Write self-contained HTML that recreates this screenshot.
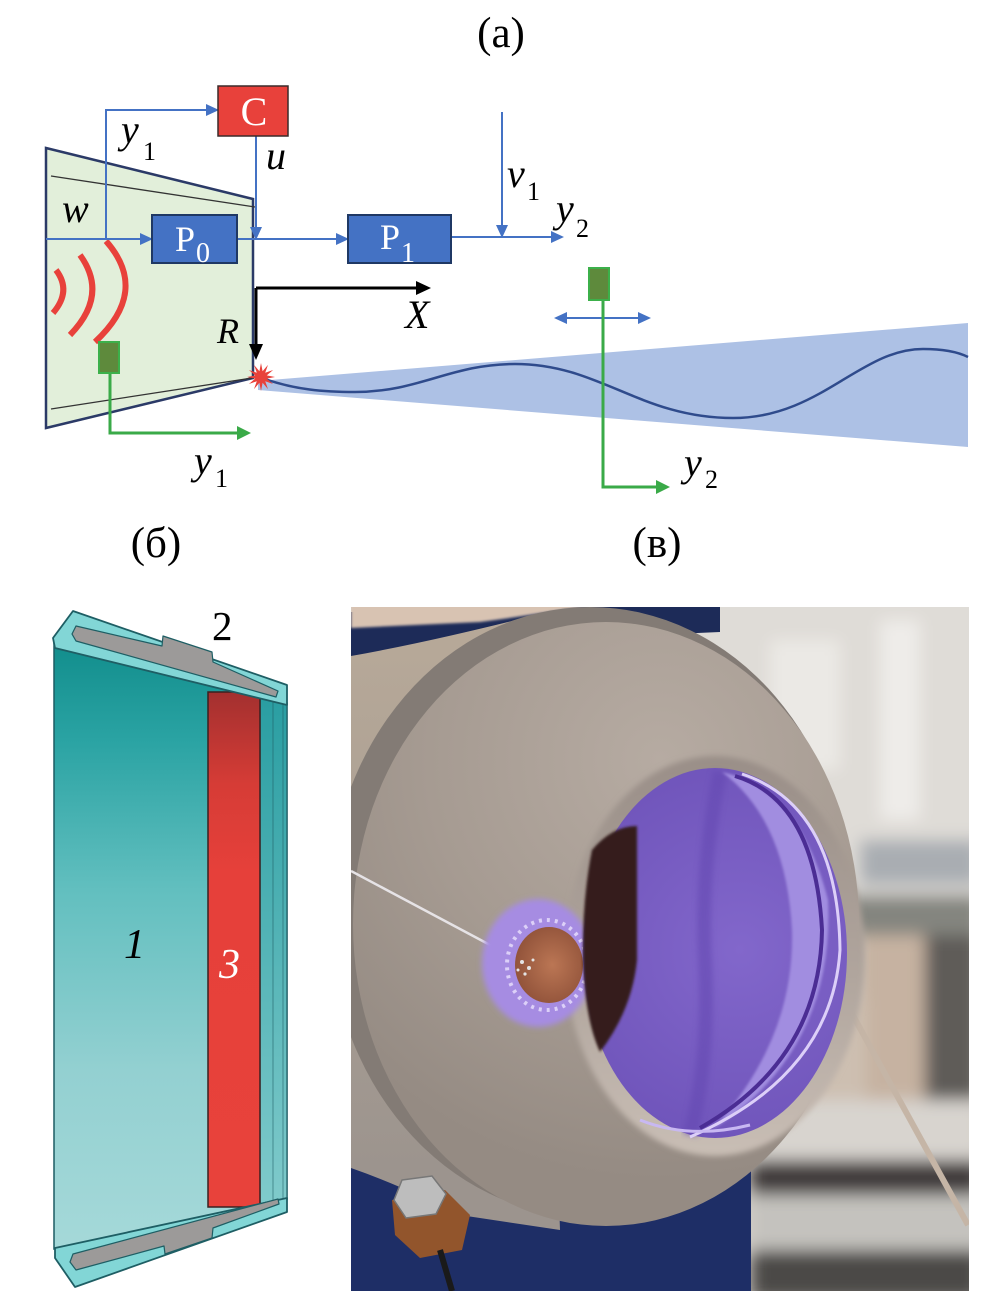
<!DOCTYPE html>
<html><head><meta charset="utf-8"><style>
html,body{margin:0;padding:0;background:#fff;width:1004px;height:1313px;overflow:hidden}
svg{display:block}
</style></head><body>
<svg xmlns="http://www.w3.org/2000/svg" width="1004" height="1313" viewBox="0 0 1004 1313" font-family="'Liberation Serif', 'DejaVu Serif', serif">
<defs>
<clipPath id="pc"><rect x="351" y="607" width="618" height="684"/></clipPath>
<filter id="b8" x="-20%" y="-20%" width="140%" height="140%"><feGaussianBlur stdDeviation="8"/></filter>
<filter id="b3" x="-30%" y="-30%" width="160%" height="160%"><feGaussianBlur stdDeviation="3"/></filter>
<filter id="b1" x="-20%" y="-20%" width="140%" height="140%"><feGaussianBlur stdDeviation="1.2"/></filter>
<linearGradient id="bodyG" gradientUnits="userSpaceOnUse" x1="0" y1="650" x2="0" y2="1250">
 <stop offset="0" stop-color="#138f8e"/>
 <stop offset="0.15" stop-color="#2aa3a3"/>
 <stop offset="0.4" stop-color="#62bfbf"/>
 <stop offset="0.7" stop-color="#93d0d1"/>
 <stop offset="1" stop-color="#a5d9d9"/>
</linearGradient>
<linearGradient id="stripG" gradientUnits="userSpaceOnUse" x1="0" y1="700" x2="0" y2="1200">
 <stop offset="0" stop-color="#2a9ea2"/>
 <stop offset="1" stop-color="#7fcacb"/>
</linearGradient>
<linearGradient id="redG" gradientUnits="userSpaceOnUse" x1="0" y1="692" x2="0" y2="1207">
 <stop offset="0" stop-color="#a3302f"/>
 <stop offset="0.18" stop-color="#d63c36"/>
 <stop offset="0.35" stop-color="#e6403a"/>
 <stop offset="1" stop-color="#e8423b"/>
</linearGradient>
<radialGradient id="coneG" gradientUnits="userSpaceOnUse" cx="660" cy="760" r="420">
 <stop offset="0" stop-color="#b6aba2"/>
 <stop offset="0.55" stop-color="#a69b92"/>
 <stop offset="1" stop-color="#958b83"/>
</radialGradient>
<linearGradient id="lipG" gradientUnits="userSpaceOnUse" x1="0" y1="760" x2="0" y2="1150">
 <stop offset="0" stop-color="#9a8f88"/>
 <stop offset="0.55" stop-color="#b0a59d"/>
 <stop offset="1" stop-color="#c8bdb4"/>
</linearGradient>
<linearGradient id="backG" gradientUnits="userSpaceOnUse" x1="0" y1="650" x2="0" y2="1170">
 <stop offset="0" stop-color="#b6a898"/>
 <stop offset="1" stop-color="#9c948e"/>
</linearGradient>
<radialGradient id="purG" gradientUnits="userSpaceOnUse" cx="740" cy="950" r="190">
 <stop offset="0" stop-color="#8267cb"/>
 <stop offset="1" stop-color="#7055bb"/>
</radialGradient>
<radialGradient id="discG" cx="0.55" cy="0.5" r="0.6">
 <stop offset="0" stop-color="#bb7654"/>
 <stop offset="1" stop-color="#8e5038"/>
</radialGradient>
</defs>

<!-- ================= (a) ================= -->
<text x="501" y="47" font-size="43" text-anchor="middle" fill="#000">(a)</text>

<polygon points="258,381 968,323 968,447 258,390" fill="#adc1e5"/>

<polygon points="46,148 253,199 253,378 46,428" fill="#e2efda" stroke="#2b3a67" stroke-width="2.5"/>
<line x1="51" y1="176" x2="255" y2="207" stroke="#333" stroke-width="1.3"/>
<line x1="51" y1="409" x2="252" y2="378" stroke="#333" stroke-width="1.3"/>

<g fill="none" stroke="#e8413b" stroke-width="6">
 <path d="M106,241 Q150,291 95,342"/>
 <path d="M80,255 Q109,295 70,335"/>
 <path d="M56,270 Q72,291 53,313"/>
</g>

<path d="M262,378 C295,390 325,392 355,392 C420,392 450,364 515,364 C600,364 640,418 733,418 C820,418 860,349 923,349 C945,349 958,352 968,357" fill="none" stroke="#2f4b8c" stroke-width="2.5"/>

<g fill="none" stroke="#4472c4" stroke-width="2">
 <path d="M106,239 V110 H207"/>
 <path d="M46,239 H141"/>
 <path d="M237,239 H337"/>
 <path d="M256,136 V228"/>
 <path d="M451,237 H552"/>
 <path d="M502,112 V226"/>
 <path d="M566,318 H639"/>
</g>
<g fill="#4472c4">
 <polygon points="219,110 206,104 206,116"/>
 <polygon points="153,239 140,233 140,245"/>
 <polygon points="349,239 336,233 336,245"/>
 <polygon points="256,240 250,227 262,227"/>
 <polygon points="564,237 551,231 551,243"/>
 <polygon points="502,238 496,225 508,225"/>
 <polygon points="554,318 567,312 567,324"/>
 <polygon points="651,318 638,312 638,324"/>
</g>

<rect x="218" y="86" width="70" height="50" fill="#e8413b" stroke="#3a2a2a" stroke-width="1.5"/>
<text x="254" y="125" font-size="40" fill="#fff" text-anchor="middle">C</text>
<rect x="152" y="215" width="85" height="48" fill="#4472c4" stroke="#1f3864" stroke-width="2"/>
<text x="175" y="251" font-size="36" fill="#fff">P</text>
<text x="196" y="262" font-size="28" fill="#fff">0</text>
<rect x="348" y="215" width="103" height="48" fill="#4472c4" stroke="#1f3864" stroke-width="2"/>
<text x="380" y="249" font-size="36" fill="#fff">P</text>
<text x="401" y="262" font-size="28" fill="#fff">1</text>

<g stroke="#000" stroke-width="3" fill="none">
 <path d="M256,288 H418"/>
 <path d="M256,288 V346"/>
</g>
<polygon points="431,288 416,281 416,295" fill="#000"/>
<polygon points="256,360 249,344 263,344" fill="#000"/>

<polygon fill="#e8413b" points="275,377 266.8,378.6 273.1,384 265.2,381.2 268,389.1 262.6,382.8 261,391 259.4,382.8 254,389.1 256.8,381.2 248.9,384 255.2,378.6 247,377 255.2,375.4 248.9,370 256.8,372.8 254,364.9 259.4,371.2 261,363 262.6,371.2 268,364.9 265.2,372.8 273.1,370 266.8,375.4"/>

<g fill="none" stroke="#3aaa48" stroke-width="3">
 <path d="M110,373 V433 H238"/>
 <path d="M603,300 V487 H657"/>
</g>
<g fill="#3aaa48">
 <polygon points="251,433 237,426 237,440"/>
 <polygon points="670,487 656,480 656,494"/>
</g>
<rect x="99" y="342" width="20" height="31" fill="#5e8a3c" stroke="#3cb04a" stroke-width="2"/>
<rect x="589" y="268" width="20" height="32" fill="#5e8a3c" stroke="#3cb04a" stroke-width="2"/>

<g font-style="italic" fill="#000">
 <text x="121" y="143" font-size="40">y</text>
 <text x="62" y="222" font-size="40">w</text>
 <text x="266" y="169" font-size="40">u</text>
 <text x="217" y="343" font-size="36">R</text>
 <text x="405" y="328" font-size="40">X</text>
 <text x="507" y="187" font-size="40">v</text>
 <text x="556" y="222" font-size="40">y</text>
 <text x="194" y="474" font-size="40">y</text>
 <text x="684" y="476" font-size="40">y</text>
</g>
<g fill="#000" font-size="26">
 <text x="143" y="160">1</text>
 <text x="527" y="200">1</text>
 <text x="576" y="237">2</text>
 <text x="215" y="487">1</text>
 <text x="705" y="488">2</text>
</g>

<text x="156" y="557" font-size="43" text-anchor="middle" fill="#000">(б)</text>
<text x="657" y="557" font-size="43" text-anchor="middle" fill="#000">(в)</text>

<!-- ================= (б) ================= -->
<polygon points="54,644 287,703 287,1199 54,1249" fill="url(#bodyG)" stroke="#1d5c63" stroke-width="1.5"/>
<polygon points="260,697 287,704 287,1199 260,1205" fill="url(#stripG)" stroke="#1d5c63" stroke-width="1.2"/>
<line x1="273" y1="700" x2="273" y2="1202" stroke="#1d5c63" stroke-width="0.8" opacity="0.7"/>
<line x1="283" y1="703" x2="283" y2="1200" stroke="#1d5c63" stroke-width="0.8" opacity="0.7"/>
<rect x="208" y="692" width="52" height="515" fill="url(#redG)" stroke="#3a2020" stroke-width="1.5"/>

<polygon points="73,611 287,685 287,705 55,648 53,638" fill="#82d6d6" stroke="#1e5e64" stroke-width="1.8" stroke-linejoin="round"/>
<polygon points="76,626 162,646 163,636 212,652 213,662 278,691 276,697 76,641 72,634" fill="#9c9a99" stroke="#1e5e64" stroke-width="1.2" stroke-linejoin="round"/>

<polygon points="55,1248 287,1198 287,1212 75,1287 55,1258" fill="#82d6d6" stroke="#1e5e64" stroke-width="1.8" stroke-linejoin="round"/>
<polygon points="73,1254 278,1199 279,1204 213,1228 212,1238 165,1254 164,1246 76,1270 70,1262" fill="#9c9a99" stroke="#1e5e64" stroke-width="1.2" stroke-linejoin="round"/>

<text x="212" y="640" font-size="41" fill="#000">2</text>
<text x="124" y="958" font-size="42" font-style="italic" fill="#000">1</text>
<text x="219" y="978" font-size="42" font-style="italic" fill="#fff">3</text>

<!-- ================= (в) photo ================= -->
<g clip-path="url(#pc)">
 <rect x="351" y="607" width="618" height="684" fill="#d3cec8"/>
 <g filter="url(#b8)">
  <rect x="690" y="590" width="300" height="310" fill="#dfdcd7"/>
  <rect x="880" y="620" width="40" height="200" fill="#eeece9"/>
  <rect x="770" y="640" width="70" height="130" fill="#ebe9e5"/>
  <rect x="860" y="840" width="120" height="45" fill="#a9adb2"/>
  <rect x="845" y="895" width="135" height="40" fill="#84857f"/>
  <rect x="860" y="935" width="65" height="170" fill="#c6b2a1"/>
  <rect x="925" y="935" width="55" height="190" fill="#5f5c58"/>
  <rect x="751" y="1000" width="115" height="100" fill="#cdbfb1"/>
  <rect x="751" y="1100" width="230" height="60" fill="#d8d4cf"/>
  <rect x="751" y="1160" width="230" height="35" fill="#3f3b3a"/>
  <rect x="751" y="1195" width="230" height="55" fill="#c4c2be"/>
  <rect x="751" y="1250" width="230" height="50" fill="#4b4947"/>
 </g>
 <line x1="850" y1="1010" x2="968" y2="1225" stroke="#c5b5a6" stroke-width="6"/>
 <rect x="351" y="1100" width="400" height="200" fill="#1e2e66"/>
 <path d="M351,612 L720,604 L720,632 L540,640 L470,650 L351,664 Z" fill="#1d2b58"/>
 <path d="M351,604 L600,604 Q540,614 480,622 L351,628 Z" fill="#d8c3b2" filter="url(#b1)"/>
 <path d="M351,656 Q430,642 540,614 L560,1230 L460,1215 Q400,1185 351,1168 Z" fill="url(#backG)"/>
 <ellipse cx="590" cy="912" rx="262" ry="305" fill="#837b75"/>
 <ellipse cx="606" cy="924" rx="253" ry="302" fill="url(#coneG)"/>
 <ellipse cx="715" cy="956" rx="150" ry="200" fill="url(#lipG)" filter="url(#b3)"/>
 <line x1="351" y1="871" x2="524" y2="963" stroke="#e6e3e6" stroke-width="2.5"/>
 <ellipse cx="538" cy="963" rx="56" ry="64" fill="#a68ce2" filter="url(#b3)"/>
 <ellipse cx="547" cy="965" rx="40" ry="45" fill="none" stroke="#dcd0f8" stroke-width="4" stroke-dasharray="3 5"/>
 <ellipse cx="549" cy="965" rx="34" ry="38" fill="url(#discG)"/>
 <g fill="#e4e4e4">
  <circle cx="522" cy="962" r="2"/><circle cx="529" cy="968" r="2"/><circle cx="525" cy="974" r="1.6"/><circle cx="533" cy="960" r="1.5"/><circle cx="518" cy="970" r="1.5"/>
 </g>
 <ellipse cx="715" cy="953" rx="132" ry="185" fill="url(#purG)"/>
 <path d="M592,850 Q612,826 637,826 L637,960 Q632,1010 600,1052 Q585,1020 583,960 Q582,900 592,850 Z" fill="#361f1e" filter="url(#b1)"/>
 <path d="M720,772 Q700,870 705,960 Q710,1060 690,1135" fill="none" stroke="#6548b2" stroke-width="14" opacity="0.6" filter="url(#b3)"/>
 <path d="M722,772 Q800,790 828,900 Q835,1050 712,1130 Q795,1040 792,930 Q786,820 722,772 Z" fill="#a18de0" filter="url(#b1)"/>
 <path d="M735,776 Q815,800 822,930 Q820,1060 700,1128" fill="none" stroke="#4b2d94" stroke-width="4"/>
 <path d="M742,774 Q838,806 840,950 Q832,1075 690,1137" fill="none" stroke="#dccff8" stroke-width="3"/>
 <path d="M640,1120 Q690,1140 750,1125" fill="none" stroke="#c8b8f2" stroke-width="3"/>
 <path d="M392,1200 L445,1190 L470,1215 L462,1250 L420,1258 L395,1235 Z" fill="#92552c"/>
 <polygon points="402,1180 432,1176 446,1194 436,1214 406,1218 394,1200" fill="#bdbdbd" stroke="#777" stroke-width="1.5"/>
 <line x1="440" y1="1250" x2="452" y2="1291" stroke="#1a1a1a" stroke-width="6"/>
</g>
</svg>
</body></html>
